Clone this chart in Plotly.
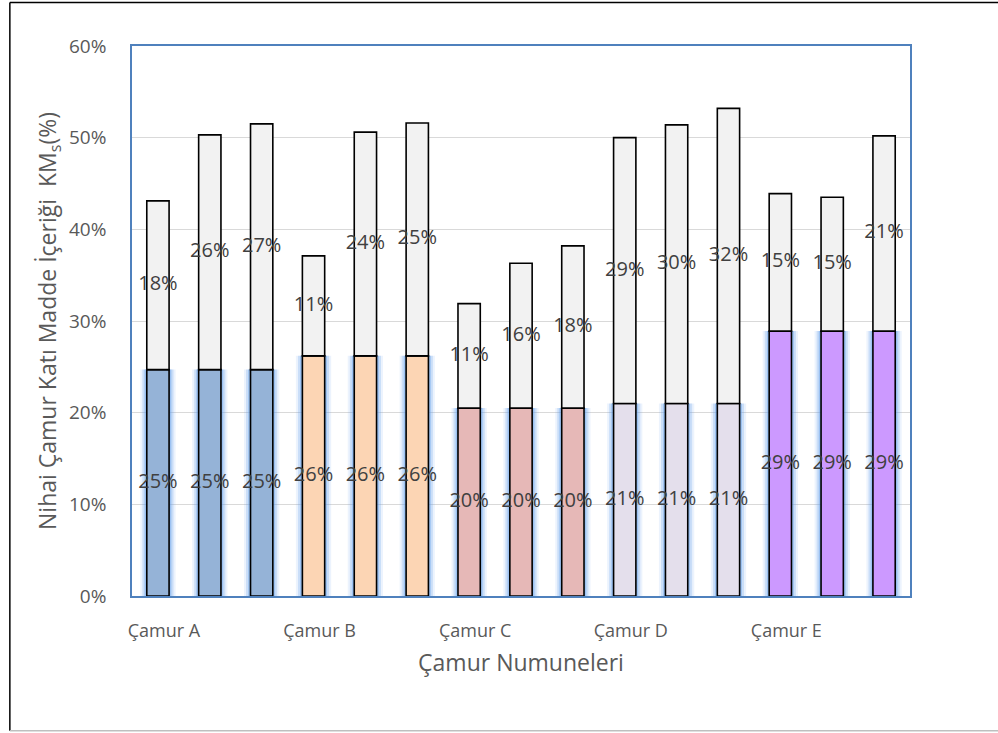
import plotly.graph_objects as go

# Sample groups and the three runs of each
groups = ["Çamur A", "Çamur B", "Çamur C", "Çamur D", "Çamur E"]
runs_per_group = 3

# Initial solids share (bottom segment) per sample, %
initial_solids = [24.7, 24.7, 24.7, 26.2, 26.2, 26.2, 20.5, 20.5, 20.5,
                  21.0, 21.0, 21.0, 28.9, 28.9, 28.9]
# Increase in solids (top segment) per sample, %
solids_gain = [18.4, 25.6, 26.8, 10.9, 24.4, 25.4, 11.4, 15.8, 17.7,
               29.0, 30.4, 32.2, 15.0, 14.6, 21.3]

group_colors = ["#95B3D7", "#FCD5B4", "#E6B8B7", "#E4DFEC", "#CC99FF"]
top_color = "#F2F2F2"

x = list(range(len(initial_solids)))
bottom_colors = [group_colors[i // runs_per_group] for i in x]

fig = go.Figure()

# soft blue halo behind the lower segments
for w, a in [(0.68, 0.12), (0.6, 0.25), (0.52, 0.45)]:
    fig.add_trace(go.Bar(x=x, y=initial_solids, width=w,
                         marker=dict(color=f"rgba(100,160,235,{a})", line=dict(width=0)),
                         hoverinfo="skip", showlegend=False))

fig.add_trace(go.Bar(x=x, y=initial_solids, width=0.43,
                     marker=dict(color=bottom_colors, line=dict(color="black", width=1.6)),
                     showlegend=False))
fig.add_trace(go.Bar(x=x, y=solids_gain, base=initial_solids, width=0.43,
                     marker=dict(color=top_color, line=dict(color="black", width=1.6)),
                     showlegend=False))

label_font = dict(family="Open Sans", size=20, color="#404040")
# value labels centred in each segment
fig.add_trace(go.Scatter(x=x, y=[b / 2 for b in initial_solids], mode="text",
                         text=[f"{round(v):.0f}%" for v in initial_solids],
                         textfont=label_font, showlegend=False, hoverinfo="skip"))
fig.add_trace(go.Scatter(x=x, y=[b + g / 2 for b, g in zip(initial_solids, solids_gain)],
                         mode="text",
                         text=[f"{round(v):.0f}%" for v in solids_gain],
                         textfont=label_font, showlegend=False, hoverinfo="skip"))

border = "#4F81BD"
fig.update_layout(
    width=998, height=733,
    barmode="overlay",
    plot_bgcolor="white", paper_bgcolor="white",
    margin=dict(l=132, r=88, t=46, b=137),
    font=dict(family="Open Sans", color="#595959"),
    xaxis=dict(range=[-0.5, 14.5],
               tickvals=[i * runs_per_group for i in range(len(groups))],
               ticktext=groups, tickfont=dict(size=18, color="#595959"),
               ticklabelshift=6,
               showgrid=False, ticks="outside", ticklen=18,
               tickcolor="rgba(0,0,0,0)", showline=True, mirror=True,
               linecolor=border, linewidth=1.5, zeroline=False,
               title=dict(text="Çamur Numuneleri", font=dict(size=23, color="#595959"),
                          standoff=14)),
    yaxis=dict(range=[0, 60], tickvals=[0, 10, 20, 30, 40, 50, 60],
               ticktext=["0%", "10%", "20%", "30%", "40%", "50%", "60%"],
               tickfont=dict(size=19, color="#595959"),
               showgrid=True, gridcolor="#D9D9D9", gridwidth=1,
               ticks="outside", ticklen=20, tickcolor="rgba(0,0,0,0)",
               showline=True, mirror=True, linecolor=border, linewidth=1.5,
               zeroline=False,
               title=dict(text="Nihai Çamur Katı Madde İçeriği  KM<sub>s</sub>(%)",
                          font=dict(size=23, color="#595959"), standoff=6)),
    shapes=[
        dict(type="line", xref="paper", yref="paper", x0=-0.157, x1=-0.157,
             y0=-0.245, y1=1.079, line=dict(color="black", width=1.5)),
        dict(type="line", xref="paper", yref="paper", x0=-0.157, x1=1.2,
             y0=1.079, y1=1.079, line=dict(color="black", width=1.5)),
        dict(type="line", xref="paper", yref="paper", x0=-0.157, x1=1.2,
             y0=-0.245, y1=-0.245, line=dict(color="#BFBFBF", width=1.5)),
    ],
)

fig.write_html("out.html")
